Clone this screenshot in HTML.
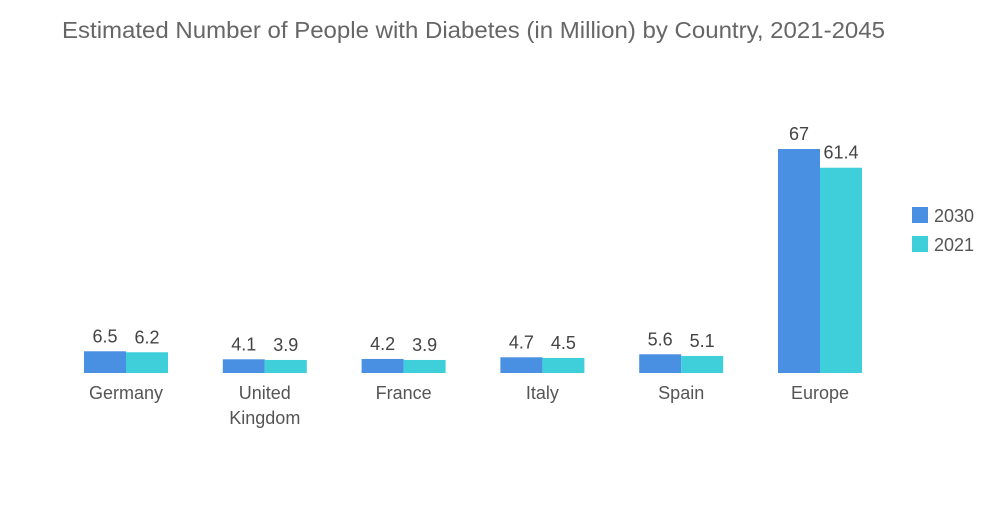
<!DOCTYPE html>
<html><head><meta charset="utf-8"><style>
body{margin:0;background:#fff;width:1000px;height:504px;overflow:hidden;font-family:"Liberation Sans",sans-serif}
</style></head><body>
<svg width="1000" height="504">
<text x="62" y="38" font-size="23" fill="#666" textLength="823" lengthAdjust="spacingAndGlyphs">Estimated Number of People with Diabetes (in Million) by Country, 2021-2045</text>
<g id="bars"></g>
<rect x="912" y="207" width="16" height="16" fill="#4a90e2"/>
<text x="934" y="222" font-size="18" fill="#555">2030</text>
<rect x="912" y="236" width="16" height="16" fill="#3ecfdb"/>
<text x="934" y="251" font-size="18" fill="#555">2021</text>
</svg>
<script>
const categories=[["Germany"],["United","Kingdom"],["France"],["Italy"],["Spain"],["Europe"]];
const values2030=[6.5,4.1,4.2,4.7,5.6,67];
const values2021=[6.2,3.9,3.9,4.5,5.1,61.4];
const labels2030=["6.5","4.1","4.2","4.7","5.6","67"];
const labels2021=["6.2","3.9","3.9","4.5","5.1","61.4"];
const base=373, scale=224/67, x0=126, step=138.8, bw=42;
const y=v=>base-v*scale;
const g=document.getElementById('bars');
const NS='http://www.w3.org/2000/svg';
function mk(tag,attrs,txt){const e=document.createElementNS(NS,tag);for(const k in attrs)e.setAttribute(k,attrs[k]);if(txt!==undefined)e.textContent=txt;g.appendChild(e);return e;}
categories.forEach((c,i)=>{
  const cx=x0+i*step;
  [[values2030,labels2030,'#4a90e2',cx-bw,'2030'],[values2021,labels2021,'#3ecfdb',cx,'2021']].forEach(([vals,labs,col,bx,s])=>{
    const r=mk('rect',{x:bx,y:y(vals[i]),width:bw,height:vals[i]*scale,fill:col});
    
    
    const t=mk('text',{x:bx+bw/2,y:y(vals[i])-9,'font-size':18,fill:'#444','text-anchor':'middle'},labs[i]);
    
    
  });
  c.forEach((line,j)=>{
    const t=mk('text',{x:cx,y:399+j*25,'font-size':18,fill:'#555','text-anchor':'middle'},line);
    
    
  });
});
</script>
</body></html>
